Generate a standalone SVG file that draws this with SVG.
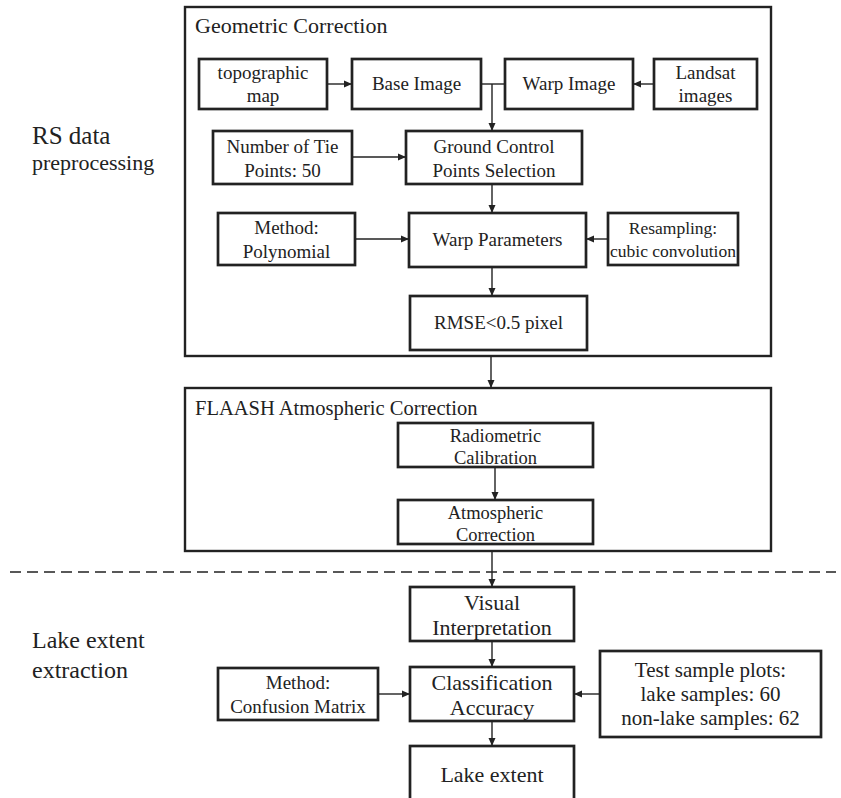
<svg xmlns="http://www.w3.org/2000/svg" width="841" height="798" viewBox="0 0 841 798">
<defs>
<marker id="ah" markerWidth="8" markerHeight="8" refX="8" refY="4" orient="auto" markerUnits="userSpaceOnUse">
<path d="M0,0.5 L8,4 L0,7.5 Z" fill="#222"/>
</marker>
<style>
.frame{fill:none;stroke:#222;stroke-width:2.4}
.box{fill:#fff;stroke:#222;stroke-width:2.7}
text{font-family:'Liberation Serif','Times New Roman',serif;fill:#222}
.t{text-anchor:middle}
.title{font-size:22px}
.s19{font-size:19px}
.s18{font-size:17.5px}
.s185{font-size:18.5px}
.s21{font-size:21px}
.s22{font-size:22px}
.c{fill:none;stroke:#222;stroke-width:1.4}
.a{fill:none;stroke:#222;stroke-width:1.4;marker-end:url(#ah)}
</style>
</defs>
<rect width="841" height="798" fill="#fff"/>

<g id="labels">
<text x="32" y="144" style="font-size:25px">RS data</text>
<text x="32" y="170" style="font-size:22px">preprocessing</text>
<text x="32" y="648" style="font-size:24px">Lake extent</text>
<text x="32" y="678" style="font-size:24px">extraction</text>
</g>

<g id="geometric-correction">
<rect class="frame" x="185" y="7" width="586" height="349"/>
<text class="title" x="195" y="33">Geometric Correction</text>
</g>
<g id="topographic-map">
<rect class="box" x="199" y="59" width="128" height="50"/>
<text class="t s19" x="263" y="79">topographic</text>
<text class="t s19" x="263" y="102">map</text>
</g>
<g id="base-image">
<rect class="box" x="352" y="59" width="129" height="50"/>
<text class="t s19" x="416.5" y="90">Base Image</text>
</g>
<g id="warp-image">
<rect class="box" x="505" y="59" width="128" height="50"/>
<text class="t s19" x="569" y="90">Warp Image</text>
</g>
<g id="landsat-images">
<rect class="box" x="654" y="59" width="103" height="50"/>
<text class="t s19" x="705.5" y="79">Landsat</text>
<text class="t s19" x="705.5" y="102">images</text>
</g>
<g id="tie-points">
<rect class="box" x="213" y="131" width="139" height="53"/>
<text class="t s19" x="282.5" y="153">Number of Tie</text>
<text class="t s19" x="282.5" y="177">Points: 50</text>
</g>
<g id="gcp-selection">
<rect class="box" x="406" y="131" width="176" height="53"/>
<text class="t s19" x="494" y="153">Ground Control</text>
<text class="t s19" x="494" y="177">Points Selection</text>
</g>
<g id="method-polynomial">
<rect class="box" x="218" y="213" width="137" height="52"/>
<text class="t s19" x="286.5" y="234">Method:</text>
<text class="t s19" x="286.5" y="258">Polynomial</text>
</g>
<g id="warp-parameters">
<rect class="box" x="409" y="213" width="177" height="54"/>
<text class="t s19" x="497.5" y="246">Warp Parameters</text>
</g>
<g id="resampling">
<rect class="box" x="608" y="213" width="130" height="52"/>
<text class="t s18" x="673" y="234">Resampling:</text>
<text class="t s18" x="673" y="257">cubic convolution</text>
</g>
<g id="rmse">
<rect class="box" x="410" y="296" width="177" height="54"/>
<text class="t s19" x="498.5" y="329">RMSE&lt;0.5 pixel</text>
</g>

<g id="flaash">
<rect class="frame" x="185" y="388" width="586" height="163"/>
<text x="195" y="415" style="font-size:20.5px">FLAASH Atmospheric Correction</text>
</g>
<g id="radiometric-calibration">
<rect class="box" x="398" y="423" width="195" height="44"/>
<text class="t s185" x="495.5" y="442">Radiometric</text>
<text class="t s185" x="495.5" y="464">Calibration</text>
</g>
<g id="atmospheric-correction">
<rect class="box" x="398" y="500" width="195" height="44"/>
<text class="t s185" x="495.5" y="519">Atmospheric</text>
<text class="t s185" x="495.5" y="541">Correction</text>
</g>

<g id="visual-interpretation">
<rect class="box" x="410" y="587" width="164" height="54"/>
<text class="t s22" x="492" y="610">Visual</text>
<text class="t s22" x="492" y="635">Interpretation</text>
</g>
<g id="classification-accuracy">
<rect class="box" x="410" y="667" width="164" height="54"/>
<text class="t s22" x="492" y="690">Classification</text>
<text class="t s22" x="492" y="715">Accuracy</text>
</g>
<g id="lake-extent">
<rect class="box" x="410" y="746" width="164" height="60"/>
<text class="t s22" x="492" y="782">Lake extent</text>
</g>
<g id="method-confusion">
<rect class="box" x="218" y="668" width="160" height="52"/>
<text class="t s19" x="298" y="689">Method:</text>
<text class="t s19" x="298" y="713">Confusion Matrix</text>
</g>
<g id="test-samples">
<rect class="box" x="600" y="651" width="221" height="86"/>
<text class="t s21" x="710.5" y="677">Test sample plots:</text>
<text class="t s21" x="710.5" y="701">lake samples: 60</text>
<text class="t s21" x="710.5" y="725">non-lake samples: 62</text>
</g>

<g id="connectors">
<line class="a" x1="327" y1="84" x2="352" y2="84"/>
<line class="c" x1="481" y1="84" x2="505" y2="84"/>
<line class="a" x1="654" y1="84" x2="633" y2="84"/>
<line class="a" x1="492" y1="84" x2="492" y2="131"/>
<line class="a" x1="352" y1="157" x2="406" y2="157"/>
<line class="a" x1="492" y1="184" x2="492" y2="213"/>
<line class="a" x1="355" y1="239" x2="409" y2="239"/>
<line class="a" x1="608" y1="239" x2="586" y2="239"/>
<line class="a" x1="492" y1="267" x2="492" y2="296"/>
<line class="a" x1="491" y1="356" x2="491" y2="388"/>
<line class="a" x1="495" y1="467" x2="495" y2="500"/>
<line class="a" x1="492" y1="551" x2="492" y2="587"/>
<line class="a" x1="492" y1="641" x2="492" y2="667"/>
<line class="a" x1="378" y1="694" x2="410" y2="694"/>
<line class="a" x1="600" y1="694" x2="574" y2="694"/>
<line class="a" x1="492" y1="721" x2="492" y2="746"/>
<line x1="10" y1="572" x2="836" y2="572" stroke="#222" stroke-width="1.4" stroke-dasharray="11,6"/>
</g>
</svg>
